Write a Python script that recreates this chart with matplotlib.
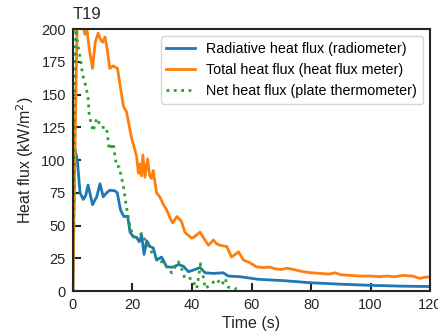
import numpy as np
import matplotlib.pyplot as plt

plt.rcParams['font.family'] = ['Liberation Sans', 'DejaVu Sans']
plt.rcParams['font.size'] = 10.5

# radiative heat flux (radiometer)
t_rad = [0, 0.5, 1.5, 2.4, 3.5, 4.3, 5.1, 6.6, 8, 9.1, 10.2, 11.3, 12.4, 14.1, 14.9,
         16, 17.1, 18.4, 19.2, 20.3, 21.4, 22.3, 23.1, 23.9, 24.8, 25.9, 27, 28.1,
         29.8, 31.5, 33.7, 35.4, 37.1, 38.8, 40.4, 42.7, 44.4, 47.2, 50.5, 52.2,
         56.1, 62.3, 70.7, 79.7, 89.7, 98.7, 110, 120]
q_rad = [0, 110, 100, 75, 70, 73, 81, 66, 72, 82, 72, 75, 77, 76.6, 75,
         62, 57, 57, 45, 41.5, 41, 37.7, 42.7, 28, 38.4, 34, 33, 23.7,
         26, 18.5, 18.3, 20.3, 19, 14.8, 16, 18, 14, 13.5, 14, 11.5,
         11, 9, 8, 6.4, 5.3, 4.5, 3.8, 3.5]

# total heat flux (heat flux meter)
t_tot = [0, 0.8, 1.5, 3.3, 4.0, 4.7, 5.5, 6.6, 7.5, 8.5, 9.3, 10.0, 10.8, 11.5, 12.4,
         13.5, 15.0, 16.0, 17.0, 18.0, 19.7, 21.4, 22.0, 22.5, 23.0, 23.5, 24.2,
         25.1, 25.8, 26.4, 27.0, 28.1, 29.2, 30.4, 31.5, 32.6, 33.5, 35.0, 36.5,
         37.6, 38.5, 39.9, 40.5, 42.7, 43.8, 45.5, 47.2, 48.3, 49.4, 51.7, 53.3,
         54.5, 55.6, 57.3, 59.5, 61.7, 64, 66.2, 68, 70, 72, 74, 77, 80, 83, 86,
         88, 90, 93, 96.5, 100, 103, 105.4, 108, 111, 114, 116.6, 118, 120]
q_tot = [0, 120, 215, 205, 196, 200, 185, 170, 190, 197, 192, 190, 194, 185, 170,
         172, 170, 155, 141, 137, 117, 103, 90, 97, 88, 104, 87,
         101, 88, 86, 92, 75, 72, 66, 62, 56, 52, 57, 53,
         45, 43, 40.5, 41, 45, 41, 35, 39, 36, 35, 34, 26,
         28, 30, 23.7, 21.6, 18.5, 18, 18.3, 17, 16.5, 17.5, 16.5, 15, 14, 13.5, 13,
         14, 12.5, 12, 11.5, 11.5, 11, 11.5, 11, 12, 11.5, 9.7, 10.5, 11]

# net heat flux (plate thermometer)
t_net = [0, 0.5, 1.0, 1.5, 2.4, 3.3, 4.4, 5.1, 5.5, 6.8, 8, 9.6, 11.3, 12.2, 13.5,
         14.7, 15.5, 16.9, 18, 19.2, 20.3, 21.4, 23.1, 24.8, 27, 29.2, 30.4, 31.5,
         33.2, 35.4, 36.5, 37.6, 39.9, 41.6, 42.9, 43.8, 44.4, 46, 48.3, 50, 51.1,
         52.2, 54.1, 55]
q_net = [0, 150, 200, 190, 179, 165, 156, 148, 134, 122, 132, 125, 125, 108, 113,
         95, 95, 81, 64, 49, 41.5, 41, 44, 36.5, 27.5, 22.4, 22.4, 18.5,
         14, 22.4, 17.3, 9.7, 9.7, 2, 21, 11, 2, 4.6, 9, 4.6, 9.7,
         3, 2.4, 1.5]

fig = plt.figure(figsize=(4.39, 3.35), dpi=100)
ax = fig.add_axes([0.166, 0.131, 0.814, 0.782])

ax.plot(t_rad, q_rad, color='tab:blue', lw=2, label='Radiative heat flux (radiometer)')
ax.plot(t_tot, q_tot, color='tab:orange', lw=2, label='Total heat flux (heat flux meter)')
ax.plot(t_net, q_net, color='tab:green', lw=2, ls=':', label='Net heat flux (plate thermometer)')

ax.set_xlim(0, 120)
ax.set_ylim(0, 200)
ax.set_xticks(np.arange(0, 121, 20))
ax.set_yticks(np.arange(0, 201, 25))
ax.tick_params(direction='in', length=6, width=1.5, colors='#262626',
               labelcolor='#262626', labelsize=10.5, pad=5)
for s in ax.spines.values():
    s.set_linewidth(1.5)
    s.set_color('#262626')

ax.set_xlabel('Time (s)', color='#262626', fontsize=11.5, labelpad=3)
ax.set_ylabel('Heat flux (kW/m$^2$)', color='#262626', fontsize=11.5)
ax.set_title('T19', loc='left', color='#262626', fontsize=12, pad=7)
ax.legend(loc='upper right', fontsize=10.3, frameon=True, borderaxespad=0.5)

fig.savefig('out.png', dpi=100)
